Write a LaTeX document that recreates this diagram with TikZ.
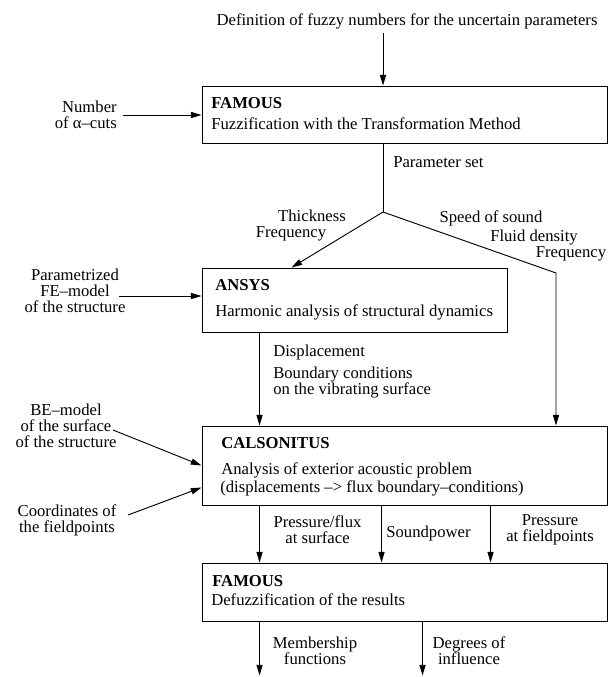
\documentclass[tikz,border=0pt]{standalone}
\usepackage{fontspec}
\setmainfont{Liberation Serif}
\usetikzlibrary{arrows.meta,calc}

\newcommand{\tfont}{\fontsize{12.5}{12}\selectfont}

\begin{document}
\begin{tikzpicture}[x=0.75pt, y=-0.75pt,
        box/.style={draw, line width=0.7pt, inner sep=0pt},
        lbl/.style={font=\tfont, inner sep=0pt, text height=0.68em, text depth=0pt},
        ttl/.style={lbl, font=\tfont\bfseries},
        ml/.style={font=\tfont, inner sep=0pt, align=center},
        arr/.style={line width=0.7pt, -{Triangle[length=8pt,width=4.6pt]}}]
        \useasboundingbox (0,0) rectangle (613,677);

        % Draw the four program boxes
        \node[box, minimum width=303.75pt, minimum height=42.75pt] (fam1) at (404.5,114.5) {};
        \node[box, minimum width=228.75pt, minimum height=48pt] (ansys) at (354.5,300) {};
        \node[box, minimum width=303.75pt, minimum height=59.25pt] (cals) at (404.5,465.5) {};
        \node[box, minimum width=303.75pt, minimum height=43.5pt] (fam2) at (404.5,592) {};

        % texts inside the boxes
        \node[ttl, anchor=west] (fam1a) at (211,104) {FAMOUS};
        \node[lbl, anchor=west] (fam1b) at (211,125) {Fuzzification with the Transformation Method};
        \node[ttl, anchor=west] (ansysa) at (215,286) {ANSYS};
        \node[lbl, anchor=west] (ansysb) at (215,312) {Harmonic analysis of structural dynamics};
        \node[ttl, anchor=west] (calsa) at (221,444) {CALSONITUS};
        \node[lbl, anchor=west] (calsb) at (221,470) {Analysis of exterior acoustic problem};
        \node[lbl, anchor=west] (calsc) at (220,488) {(displacements –> flux boundary–conditions)};
        \node[ttl, anchor=west] (fam2a) at (212,582) {FAMOUS};
        \node[lbl, anchor=west] (fam2b) at (211,601) {Defuzzification of the results};

        % inputs from the left and from the top
        \node[lbl] (fuzzy) at (407,21) {Definition of fuzzy numbers for the uncertain parameters};
        \node[ml, anchor=east, align=right] (ncuts) at (117,115) {Number\\of α–cuts};
        \node[ml] (femod) at (75,291) {Parametrized\\FE–model\\of the structure};
        \node[ml] (bemod) at (66,426) {BE–model\\of the surface\\of the structure};
        \node[ml] (fieldp) at (67,520) {Coordinates of\\the fieldpoints};

        \coordinate (fuzzyend) at (383,33);
        \coordinate (ncutsend) at (123,115);
        \coordinate (femodend) at (119,296);
        \coordinate (bemodend) at (113,430);
        \coordinate (fieldpend) at (128,515);
        \draw[arr] (fuzzyend) -- (fuzzyend |- fam1.north);
        \draw[arr] (ncutsend) -- (ncutsend -| fam1.west);
        \draw[arr] (femodend) -- (femodend -| ansys.west);
        \draw[arr] (bemodend) -- (cals.west);
        \draw[arr] (fieldpend) -- ($(cals.west)+(0,22)$);

        % split of the parameter set
        \coordinate (split) at (383,212);
        \coordinate (bend) at (556,273);
        \draw[line width=0.7pt] (split |- fam1.south) -- (split);
        \draw[arr] (split) -- ($(ansys.north west)+(90,0)$);
        \draw[arr] (split) -- (bend) -- (bend |- cals.north);
        \node[lbl, anchor=west] (pset) at (393,163) {Parameter set};
        \node[lbl] (thick) at (312,217) {Thickness};
        \node[lbl] (freqa) at (291,233) {Frequency};
        \node[lbl] (sound) at (491,218) {Speed of sound};
        \node[lbl] (dens) at (534,237) {Fluid density};
        \node[lbl] (freqb) at (571,253) {Frequency};

        % ANSYS to CALSONITUS
        \draw[arr] ($(ansys.south west)+(58,0)$) -- ($(cals.north west)+(58,0)$);
        \node[lbl, anchor=west] (disp) at (273,352) {Displacement};
        \node[ml, anchor=west, align=left] (bcond) at (273,383) {Boundary conditions\\on the vibrating surface};

        % CALSONITUS to FAMOUS
        \foreach \dx in {58,180,289}
            \draw[arr] ($(cals.south west)+(\dx,0)$) -- ($(fam2.north west)+(\dx,0)$);
        \node[ml] (pflux) at (317.5,530) {Pressure/flux\\at surface};
        \node[lbl] (spow) at (428.5,533) {Soundpower};
        \node[ml] (pfield) at (550,530) {Pressure\\at fieldpoints};

        % results
        \foreach \dx in {58,221}
            \draw[arr] ($(fam2.south west)+(\dx,0)$) -- ++(0,54);
        \node[ml] (member) at (315,651) {Membership\\functions};
        \node[ml] (degree) at (469,651) {Degrees of\\influence};

    \end{tikzpicture}
\end{document}
